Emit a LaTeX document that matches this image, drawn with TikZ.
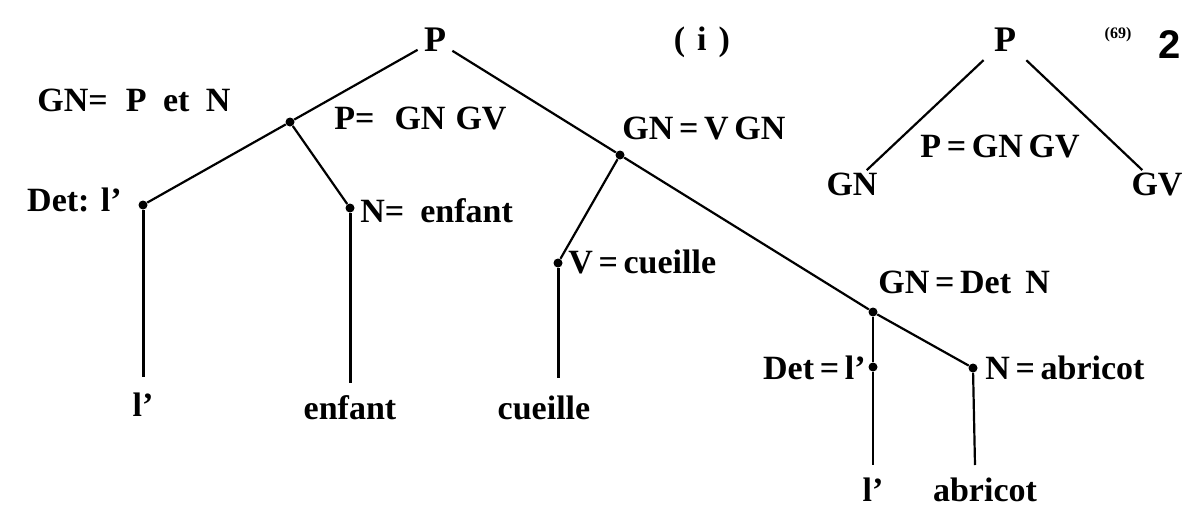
\documentclass[tikz,border=0pt]{standalone}
\usepackage{fontspec}
\setmainfont{Liberation Serif}
\newfontfamily\numfont{Liberation Sans}
\begin{document}
\begin{tikzpicture}[x=0.5pt,y=-0.5pt,
  lbl/.style={font=\bfseries\fontsize{17}{20}\selectfont, inner sep=0pt},
  leaf/.style={lbl, text height=12pt, text depth=3pt},
  dot/.style={circle, fill, inner sep=0pt, minimum size=4.5pt},
  edge/.style={line width=1.1pt},
  stem/.style={line width=1.5pt}]
\useasboundingbox (0,0) rectangle (1201,520);
% left tree
\node[lbl, inner sep=3pt, font=\bfseries\fontsize{18}{20}\selectfont] (P) at (435,40) {P};
\node[dot] (a) at (290,122) {};
\node[dot] (det1) at (143,205) {};
\node[dot] (n1) at (350,208) {};
\node[dot] (b) at (620,155) {};
\node[dot] (v) at (558,263) {};
\node[dot] (c) at (873,312) {};
\node[dot] (det2) at (873,367) {};
\node[dot] (n2) at (973,368) {};
\coordinate (e1) at (143,377);
\coordinate (e2) at (350,383);
\coordinate (e3) at (558,378);
\coordinate (e4) at (873,465);
\coordinate (e5) at (975,465);
\node[leaf] (l1) at (143,407) {l'};
\node[leaf] (l2) at (350,410) {enfant};
\node[leaf] (l3) at (544,410) {cueille};
\node[leaf] (l4) at (873,492) {l'};
\node[leaf] (l5) at (985,492) {abricot};
\draw[edge] (P) -- (a);
\draw[edge] (P) -- (b);
\draw[edge] (b) -- (c);
\draw[edge] (c) -- (n2);
\draw[edge] (a) -- (det1);
\draw[edge] (a) -- (n1);
\draw[edge] (b) -- (v);
\draw[stem] (det1) -- (e1);
\draw[stem] (n1) -- (e2);
\draw[stem] (v) -- (e3);
\draw[edge] (c) -- (det2);
\draw[edge] (det2) -- (e4);
\draw[edge] (n2) -- (e5);
% labels
\node[lbl, anchor=west] (t1) at (37,100) {GN=\hspace{9pt}P\hspace{4pt} et\hspace{4pt} N};
\node[lbl, anchor=west] (t2) at (334,118) {P=\hspace{10pt}GN\hspace{5pt}GV};
\node[lbl, anchor=east] (t3) at (122,200) {Det: l'};
\node[lbl, anchor=west] (t4) at (360,211) {N=\hspace{8pt}enfant};
\node[lbl, anchor=west] (t5) at (622,128) {GN\,=\,V\,GN};
\node[lbl, anchor=west] (t6) at (568,262) {V\,=\,cueille};
\node[lbl, anchor=west] (t7) at (878,282) {GN\,=\,Det\,\ N};
\node[lbl, anchor=east] (t8) at (866,368) {Det\,=\,l'};
\node[lbl, anchor=west] (t9) at (985,368) {N\,=\,abricot};
\node[lbl] (t10) at (702,42) {(\hspace{6pt}i\hspace{6pt})};
% right tree
\node[lbl, inner sep=5pt, font=\bfseries\fontsize{18}{20}\selectfont] (P2) at (1005,40) {P};
\node[lbl, inner sep=1pt] (GN2) at (852,184) {GN};
\node[lbl, inner sep=1pt] (GV2) at (1157,184) {GV};
\node[lbl] (t11) at (1000,146) {P\,=\,GN\,GV};
\draw[edge] (P2) -- (GN2);
\draw[edge] (P2) -- (GV2);
\node[font=\bfseries\fontsize{8}{9}\selectfont, inner sep=0pt] (t12) at (1118,35) {(69)};
\node[font=\numfont\bfseries\fontsize{20}{22}\selectfont, inner sep=0pt] (t13) at (1170,45) {2};
\end{tikzpicture}
\end{document}
